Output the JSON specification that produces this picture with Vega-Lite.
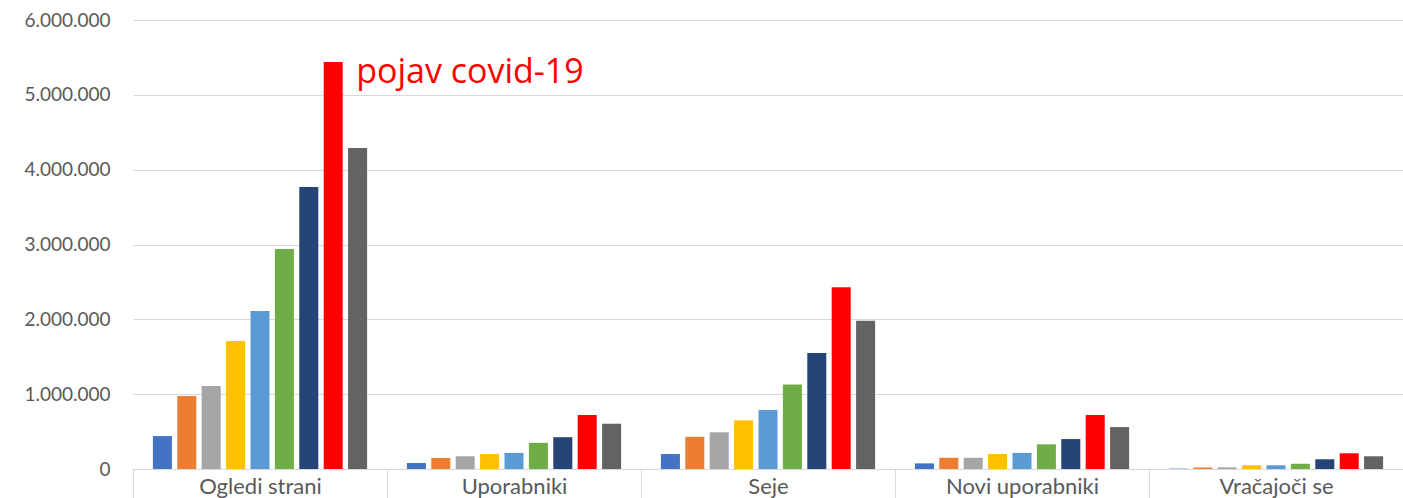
{
  "$schema": "https://vega.github.io/schema/vega-lite/v6.json",
  "width": 1270,
  "height": 449,
  "autosize": {"type": "none"},
  "padding": {"left": 133, "top": 20, "right": 0, "bottom": 29},
  "background": "white",
  "config": {
    "locale": {"number": {"decimal": ",", "thousands": ".", "grouping": [3], "currency": ["", " €"]}},
    "view": {"stroke": null},
    "font": "Lato"
  },
  "datasets": {
    "bars": [
      {"cat": "Ogledi strani", "year": "2013", "value": 440000},
      {"cat": "Ogledi strani", "year": "2014", "value": 975000},
      {"cat": "Ogledi strani", "year": "2015", "value": 1110000},
      {"cat": "Ogledi strani", "year": "2016", "value": 1710000},
      {"cat": "Ogledi strani", "year": "2017", "value": 2110000},
      {"cat": "Ogledi strani", "year": "2018", "value": 2940000},
      {"cat": "Ogledi strani", "year": "2019", "value": 3770000},
      {"cat": "Ogledi strani", "year": "2020", "value": 5440000},
      {"cat": "Ogledi strani", "year": "2021", "value": 4290000},
      {"cat": "Uporabniki", "year": "2013", "value": 80000},
      {"cat": "Uporabniki", "year": "2014", "value": 147000},
      {"cat": "Uporabniki", "year": "2015", "value": 170000},
      {"cat": "Uporabniki", "year": "2016", "value": 200000},
      {"cat": "Uporabniki", "year": "2017", "value": 215000},
      {"cat": "Uporabniki", "year": "2018", "value": 350000},
      {"cat": "Uporabniki", "year": "2019", "value": 425000},
      {"cat": "Uporabniki", "year": "2020", "value": 720000},
      {"cat": "Uporabniki", "year": "2021", "value": 605000},
      {"cat": "Seje", "year": "2013", "value": 200000},
      {"cat": "Seje", "year": "2014", "value": 430000},
      {"cat": "Seje", "year": "2015", "value": 490000},
      {"cat": "Seje", "year": "2016", "value": 650000},
      {"cat": "Seje", "year": "2017", "value": 790000},
      {"cat": "Seje", "year": "2018", "value": 1130000},
      {"cat": "Seje", "year": "2019", "value": 1550000},
      {"cat": "Seje", "year": "2020", "value": 2430000},
      {"cat": "Seje", "year": "2021", "value": 1980000},
      {"cat": "Novi uporabniki", "year": "2013", "value": 75000},
      {"cat": "Novi uporabniki", "year": "2014", "value": 150000},
      {"cat": "Novi uporabniki", "year": "2015", "value": 150000},
      {"cat": "Novi uporabniki", "year": "2016", "value": 200000},
      {"cat": "Novi uporabniki", "year": "2017", "value": 215000},
      {"cat": "Novi uporabniki", "year": "2018", "value": 330000},
      {"cat": "Novi uporabniki", "year": "2019", "value": 400000},
      {"cat": "Novi uporabniki", "year": "2020", "value": 720000},
      {"cat": "Novi uporabniki", "year": "2021", "value": 560000},
      {"cat": "Vračajoči se", "year": "2013", "value": 5000},
      {"cat": "Vračajoči se", "year": "2014", "value": 20000},
      {"cat": "Vračajoči se", "year": "2015", "value": 22000},
      {"cat": "Vračajoči se", "year": "2016", "value": 50000},
      {"cat": "Vračajoči se", "year": "2017", "value": 50000},
      {"cat": "Vračajoči se", "year": "2018", "value": 70000},
      {"cat": "Vračajoči se", "year": "2019", "value": 130000},
      {"cat": "Vračajoči se", "year": "2020", "value": 210000},
      {"cat": "Vračajoči se", "year": "2021", "value": 170000}
    ],
    "note": [
      {"cat": "Ogledi strani", "year": "2020", "value": 5440000, "label": "pojav covid-19"}
    ]
  },
  "encoding": {
    "x": {
      "field": "cat", "type": "nominal",
      "sort": ["Ogledi strani", "Uporabniki", "Seje", "Novi uporabniki", "Vračajoči se"],
      "scale": {"paddingInner": 0, "paddingOuter": 0},
      "axis": {
        "title": null, "labelAngle": 0, "tickBand": "extent", "tickSize": 29,
        "tickColor": "#D9D9D9", "domainColor": "#D9D9D9", "labelPadding": -22,
        "labelBaseline": "top", "labelFontSize": 22, "labelColor": "#595959", "labelFont": "Lato"
      }
    },
    "xOffset": {
      "field": "year", "type": "nominal",
      "scale": {"paddingInner": 0.22, "paddingOuter": 0.815}
    },
    "y": {
      "field": "value", "type": "quantitative",
      "scale": {"domain": [0, 6000000], "nice": false},
      "axis": {
        "title": null, "values": [0, 1000000, 2000000, 3000000, 4000000, 5000000, 6000000],
        "format": ",d", "domain": false, "ticks": false, "labelPadding": 23,
        "gridColor": "#D9D9D9", "labelFontSize": 19, "labelColor": "#595959", "labelFont": "Lato"
      }
    }
  },
  "layer": [
    {
      "data": {"name": "bars"},
      "mark": {"type": "bar"},
      "encoding": {
        "color": {
          "field": "year", "type": "nominal", "legend": null,
          "scale": {
            "domain": ["2013", "2014", "2015", "2016", "2017", "2018", "2019", "2020", "2021"],
            "range": ["#4472C4", "#ED7D31", "#A5A5A5", "#FFC000", "#5B9BD5", "#70AD47", "#264478", "#FF0000", "#636363"]
          }
        }
      }
    },
    {
      "data": {"name": "note"},
      "mark": {"type": "text", "align": "left", "baseline": "alphabetic", "dx": 23, "dy": 21, "fontSize": 34, "color": "#FF0000", "font": "Open Sans"},
      "encoding": {"text": {"field": "label"}}
    }
  ]
}
